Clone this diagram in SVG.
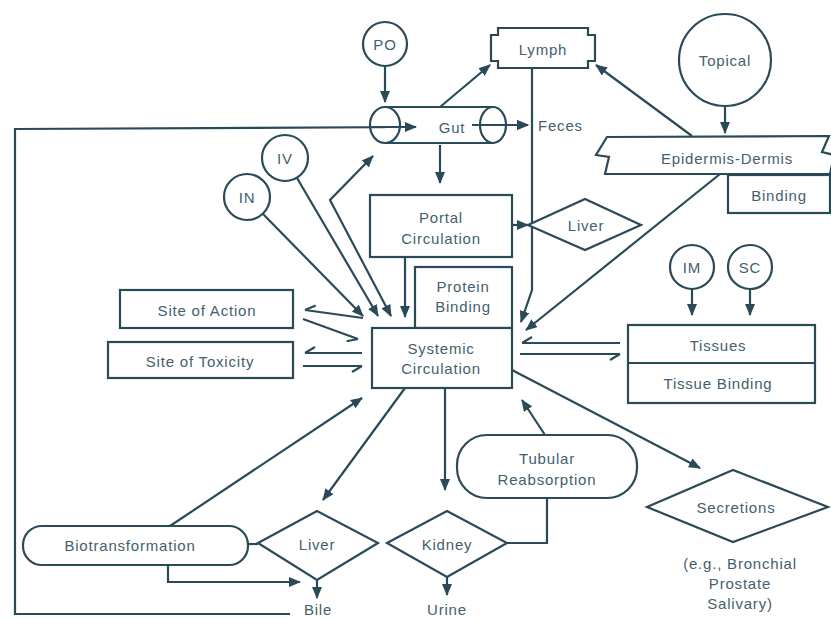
<svg xmlns="http://www.w3.org/2000/svg" width="831" height="620" viewBox="0 0 831 620">
<defs>
<style>
.s{fill:#fff;stroke:#2b4a58;stroke-width:2.2}
.c{fill:none;stroke:#2b4a58;stroke-width:2.2}
text{font-family:"Liberation Sans",Arial,sans-serif;font-size:15px;fill:#44606e;text-anchor:middle;dominant-baseline:central;letter-spacing:0.8px}
</style>
<marker id="a" viewBox="0 0 12 10" refX="11" refY="5" markerWidth="12" markerHeight="10" markerUnits="userSpaceOnUse" orient="auto-start-reverse">
<path d="M0,0 L12,5 L0,10 Z" fill="#2b4a58"/>
</marker>
<marker id="h" viewBox="0 0 12 8" refX="11" refY="1" markerWidth="12" markerHeight="8" markerUnits="userSpaceOnUse" orient="auto">
<path d="M11,1 L1,7" stroke="#2b4a58" stroke-width="2.2" fill="none"/>
</marker>
</defs>
<rect width="831" height="620" fill="#fff"/>

<g id="connectors" class="c">
<path d="M385,66 V102" marker-end="url(#a)"/>
<path d="M290,614 H15 V129 L416,127" marker-end="url(#a)"/>
<path d="M472,125 H528" marker-end="url(#a)"/>
<path d="M440,107 L490,65" marker-end="url(#a)"/>
<path d="M725,106 V133" marker-end="url(#a)"/>
<path d="M692,136 L596,65" marker-end="url(#a)"/>
<path d="M532,68 V290 L521,322" marker-end="url(#a)"/>
<path d="M720,174 L526,330" marker-end="url(#a)"/>
<path d="M440,145 V183" marker-end="url(#a)"/>
<path d="M512,225 H528" marker-end="url(#a)"/>
<path d="M405,257 V317" marker-end="url(#a)"/>
<path d="M263,214 L363,316" marker-end="url(#a)"/>
<path d="M297,178 L378,316" marker-end="url(#a)"/>
<path d="M391,316 L330,200 L373,156" marker-start="url(#a)" marker-end="url(#a)"/>
<path d="M363,318 L305,310" marker-end="url(#h)"/>
<path d="M303,319 L358,339" marker-end="url(#h)"/>
<path d="M362,353 H305" marker-end="url(#h)"/>
<path d="M303,366 H362" marker-end="url(#h)"/>
<path d="M620,343 H522" marker-end="url(#h)"/>
<path d="M520,354 H620" marker-end="url(#h)"/>
<path d="M692,289 V315" marker-end="url(#a)"/>
<path d="M750,289 V315" marker-end="url(#a)"/>
<path d="M170,526 L362,398" marker-end="url(#a)"/>
<path d="M405,388 L323,500" marker-end="url(#a)"/>
<path d="M248,544 H258"/>
<path d="M168,565 V582 H300" marker-end="url(#a)"/>
<path d="M317,580 V598" marker-end="url(#a)"/>
<path d="M445,388 V490" marker-end="url(#a)"/>
<path d="M507,543 H547 V498"/>
<path d="M545,435 L522,400" marker-end="url(#a)"/>
<path d="M447,577 V595" marker-end="url(#a)"/>
<path d="M512,370 L700,468" marker-end="url(#a)"/>
</g>

<g id="po"><circle class="s" cx="385" cy="44" r="22"/><text x="385" y="44">PO</text></g>
<g id="topical"><circle class="s" cx="725" cy="60" r="46"/><text x="725" y="60">Topical</text></g>
<g id="iv"><circle class="s" cx="285" cy="158" r="23"/><text x="285" y="158">IV</text></g>
<g id="in"><circle class="s" cx="247" cy="197" r="23"/><text x="247" y="197">IN</text></g>
<g id="im"><circle class="s" cx="692" cy="267" r="22"/><text x="692" y="267">IM</text></g>
<g id="sc"><circle class="s" cx="750" cy="267" r="22"/><text x="750" y="267">SC</text></g>

<g id="lymph"><path class="s" d="M498,28 H588 V35 H595 V61 H588 V68 H498 V61 H491 V35 H498 Z"/><text x="543" y="49">Lymph</text></g>

<g id="gut">
<path d="M385,107 H493 V143 H385 Z" fill="#fff"/>
<path class="c" d="M385,107 H493 M385,143 H493"/>
<ellipse class="c" cx="385" cy="125" rx="15" ry="18"/>
<ellipse class="c" cx="493" cy="125" rx="13" ry="18"/>
<path class="c" d="M370,127 L416,127" marker-end="url(#a)"/>
<path class="c" d="M472,125 H528" marker-end="url(#a)"/>
<text x="452" y="127">Gut</text>
</g>
<g id="feces"><text x="538" y="125" style="text-anchor:start">Feces</text></g>

<g id="epidermis"><path class="s" d="M607,137 L829,136 L822,152 L834,155 L830,174 L605,174 L609,157 L596,155 Z"/><text x="727" y="158">Epidermis-Dermis</text></g>
<g id="binding"><rect class="s" x="728" y="175" width="102" height="38"/><text x="779" y="195">Binding</text></g>

<g id="portal"><rect class="s" x="370" y="195" width="142" height="62"/><text x="441" y="217">Portal</text><text x="441" y="238">Circulation</text></g>
<g id="liver-top"><path class="s" d="M528,225 L585,199 L641,225 L585,250 Z"/><text x="586" y="225">Liver</text></g>
<g id="protein"><rect class="s" x="415" y="267" width="97" height="61"/><text x="463" y="286">Protein</text><text x="463" y="306">Binding</text></g>
<g id="systemic"><rect class="s" x="372" y="328" width="140" height="60"/><text x="441" y="348">Systemic</text><text x="441" y="368">Circulation</text></g>
<g id="action"><rect class="s" x="120" y="290" width="173" height="38"/><text x="207" y="310">Site of Action</text></g>
<g id="toxicity"><rect class="s" x="108" y="342" width="185" height="36"/><text x="200" y="361">Site of Toxicity</text></g>
<g id="tissues"><rect class="s" x="628" y="325" width="187" height="78"/><path class="c" d="M628,363 H815"/><text x="718" y="345">Tissues</text><text x="718" y="383">Tissue Binding</text></g>

<g id="biotransformation"><rect class="s" x="23" y="526" width="225" height="39" rx="19"/><text x="130" y="545">Biotransformation</text></g>
<g id="liver-bottom"><path class="s" d="M258,543 L317,511 L378,543 L317,580 Z"/><text x="317" y="544">Liver</text></g>
<g id="kidney"><path class="s" d="M387,543 L447,511 L507,543 L447,577 Z"/><text x="447" y="544">Kidney</text></g>
<g id="tubular"><rect class="s" x="457" y="435" width="180" height="63" rx="30"/><text x="547" y="458">Tubular</text><text x="547" y="479">Reabsorption</text></g>
<g id="secretions"><path class="s" d="M647,507 L733,470 L828,507 L733,542 Z"/><text x="736" y="507">Secretions</text>
<text x="740" y="563">(e.g., Bronchial</text><text x="740" y="583">Prostate</text><text x="740" y="603">Salivary)</text></g>
<g id="bile"><text x="318" y="609">Bile</text></g>
<g id="urine"><text x="447" y="609">Urine</text></g>
</svg>
